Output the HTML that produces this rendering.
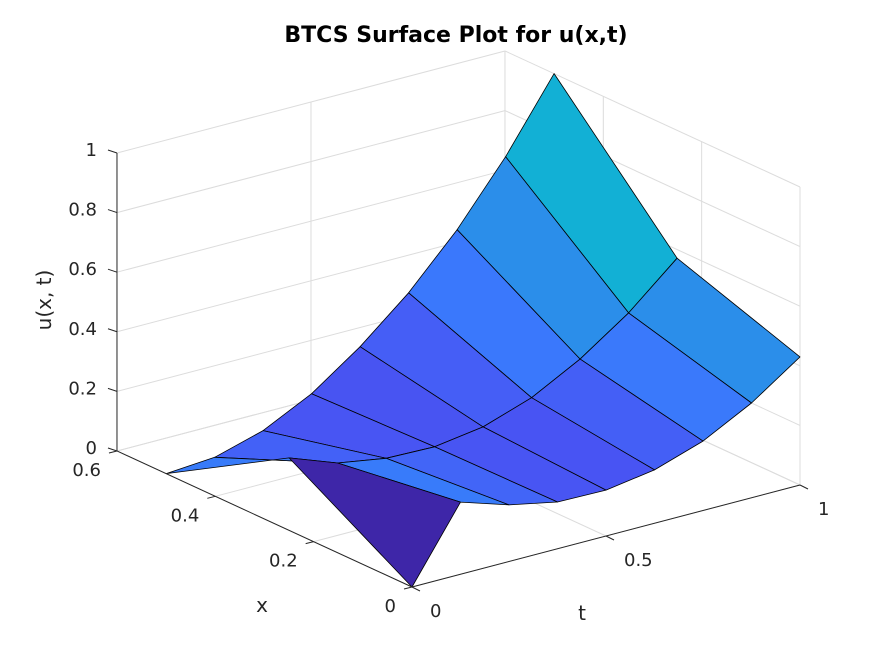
<!DOCTYPE html>
<html><head><meta charset="utf-8">
<style>
html,body{margin:0;padding:0;background:#fff;}
svg{display:block;font-family:"DejaVu Sans","Liberation Sans",sans-serif;}
text{fill:#262626;font-size:18px;}
</style></head>
<body>
<svg id="chart" width="883" height="662" viewBox="0 0 883 662" xmlns="http://www.w3.org/2000/svg">
<rect width="883" height="662" fill="#fff"/>
<text x="456" y="42" text-anchor="middle" style="font-weight:bold;font-size:22px;fill:#000">BTCS Surface Plot for u(x,t)</text>
<g id="grid"></g>
<g id="surf"></g>
<g id="axes"></g>
<text x="262" y="612" text-anchor="middle" style="font-size:20px">x</text>
<text x="582" y="620" text-anchor="middle" style="font-size:20px">t</text>
<text transform="translate(51,300) rotate(-90)" text-anchor="middle" style="font-size:20px">u(x, t)</text>
</svg>
<script>
const xNodes = [0, 0.25, 0.5];
const tNodes = [0, 0.125, 0.25, 0.375, 0.5, 0.625, 0.75, 0.875, 1];
const uRowX0 = [0, 0.242, 0.19, 0.157, 0.154, 0.179, 0.233, 0.318, 0.43];
const uRowX025 = [0.243, 0.183, 0.156, 0.152, 0.176, 0.231, 0.318, 0.43, 0.571];
const uRowX05 = [0, 0.012, 0.059, 0.14, 0.255, 0.393, 0.562, 0.764, 1.0];
const xTicks = [0, 0.2, 0.4, 0.6];
const xTickLabels = ["0", "0.2", "0.4", "0.6"];
const tTicks = [0, 0.5, 1];
const tTickLabels = ["0", "0.5", "1"];
const zTicks = [0, 0.2, 0.4, 0.6, 0.8, 1];
const zTickLabels = ["0", "0.2", "0.4", "0.6", "0.8", "1"];

const U = [uRowX0, uRowX025, uRowX05];
const NS = "http://www.w3.org/2000/svg";
const O = [412, 587], AX = [-491.7, -226.7], AT = [388, -102], AZ = 298;
const XMAX = 0.6, TMAX = 1, ZMAX = 1;
function P(x, t, z) { return [O[0] + x * AX[0] + t * AT[0], O[1] + x * AX[1] + t * AT[1] - z * AZ]; }
function mk(tag, attrs, parent) { const e = document.createElementNS(NS, tag); for (const k in attrs) e.setAttribute(k, attrs[k]); parent.appendChild(e); return e; }
function line(p, q, stroke, w, parent) { return mk('line', {x1: p[0], y1: p[1], x2: q[0], y2: q[1], stroke: stroke, 'stroke-width': w}, parent); }

const stops = [[0, [62, 38, 168]], [0.1, [71, 68, 232]], [0.16, [72, 86, 244]], [0.23, [58, 120, 252]], [0.32, [43, 143, 234]], [0.43, [18, 176, 213]], [0.6, [64, 190, 138]], [1, [249, 251, 21]]];
function cmap(v) {
  v = Math.max(0, Math.min(1, v));
  for (let i = 1; i < stops.length; i++) {
    if (v <= stops[i][0]) {
      const a = stops[i - 1], b = stops[i], f = (v - a[0]) / (b[0] - a[0]);
      const c = a[1].map((c0, k) => Math.round(c0 + f * (b[1][k] - c0)));
      return `rgb(${c[0]},${c[1]},${c[2]})`;
    }
  }
  return 'rgb(249,251,21)';
}

const grid = document.getElementById('grid');
const gc = '#dcdcdc';
zTicks.forEach(z => {
  const g1 = line(P(XMAX, 0, z), P(XMAX, TMAX, z), gc, 1, grid);
  
  
  const g2 = line(P(XMAX, TMAX, z), P(0, TMAX, z), gc, 1, grid);
  
  
});
tTicks.forEach(t => {
  const g1 = line(P(XMAX, t, 0), P(XMAX, t, ZMAX), gc, 1, grid);
  
  
  const g2 = line(P(XMAX, t, 0), P(0, t, 0), gc, 1, grid);
  
  
});
xTicks.forEach(x => {
  const g1 = line(P(x, TMAX, 0), P(x, TMAX, ZMAX), gc, 1, grid);
  
  
  const g2 = line(P(x, 0, 0), P(x, TMAX, 0), gc, 1, grid);
  
  
});

const surf = document.getElementById('surf');
const cells = [];
for (let i = 0; i < xNodes.length - 1; i++) {
  for (let j = 0; j < tNodes.length - 1; j++) {
    const xc = (xNodes[i] + xNodes[i + 1]) / 2, tc = (tNodes[j] + tNodes[j + 1]) / 2;
    cells.push({i, j, depth: P(xc, tc, 0)[1]});
  }
}
cells.sort((a, b) => a.depth - b.depth);
cells.forEach(c => {
  const i = c.i, j = c.j;
  const pts = [P(xNodes[i], tNodes[j], U[i][j]), P(xNodes[i + 1], tNodes[j], U[i + 1][j]),
               P(xNodes[i + 1], tNodes[j + 1], U[i + 1][j + 1]), P(xNodes[i], tNodes[j + 1], U[i][j + 1])];
  const poly = mk('polygon', {points: pts.map(p => p[0].toFixed(1) + ',' + p[1].toFixed(1)).join(' '),
    fill: cmap(U[i][j]), stroke: '#000', 'stroke-width': 0.8, 'stroke-linejoin': 'round'}, surf);
  
  
});

const axes = document.getElementById('axes');
const ac = '#262626';
const xa = line(P(0, 0, 0), P(XMAX, 0, 0), ac, 1, axes);


const ta = line(P(0, 0, 0), P(0, TMAX, 0), ac, 1, axes);


const za = line(P(XMAX, 0, 0), P(XMAX, 0, ZMAX), ac, 1, axes);



function txt(s, x, y, anchor, parent) { const e = mk('text', {x: x, y: y, 'text-anchor': anchor}, parent); e.textContent = s; return e; }
xTicks.forEach((x, k) => {
  const p = P(x, 0, 0);
  const tk = line(p, [p[0] - 8, p[1] + 2], ac, 1, axes);
  
  
  const lb = txt(xTickLabels[k], p[0] - 16, p[1] + 25, 'end', axes);
  
  
});
tTicks.forEach((t, k) => {
  const p = P(0, t, 0);
  const tk = line(p, [p[0] + 8, p[1] + 4], ac, 1, axes);
  
  
  const lb = txt(tTickLabels[k], p[0] + 18, p[1] + 30, 'start', axes);
  
  
});
zTicks.forEach((z, k) => {
  const p = P(XMAX, 0, z);
  const tk = line(p, [p[0] - 9, p[1] - 3], ac, 1, axes);
  
  
  const lb = txt(zTickLabels[k], p[0] - 20, p[1] + 3, 'end', axes);
  
  
});
</script>
</body></html>
